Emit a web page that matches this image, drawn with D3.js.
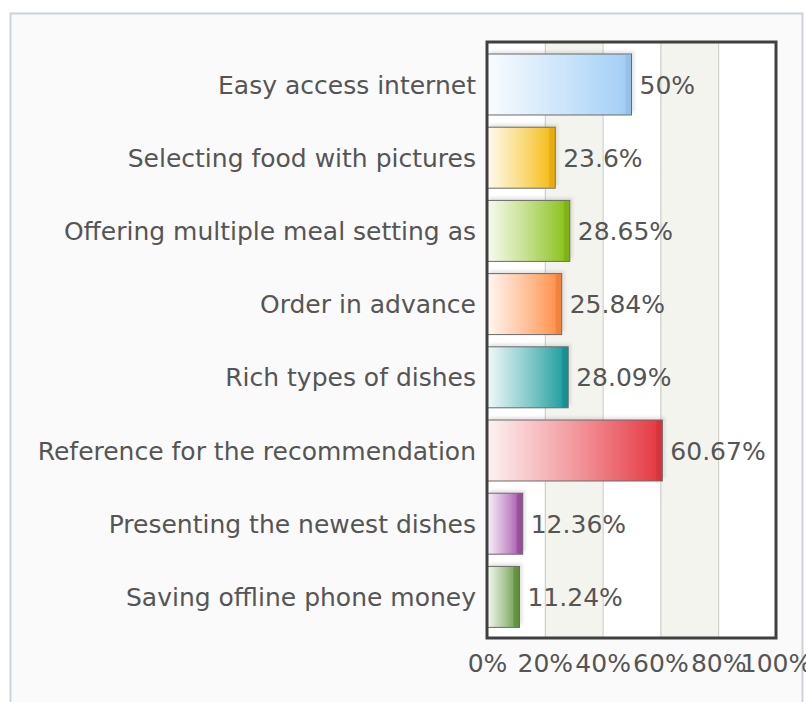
<!DOCTYPE html>
<html>
<head>
<meta charset="utf-8">
<script src="https://cdn.jsdelivr.net/npm/d3@7"></script>
<style>
  html, body { margin: 0; padding: 0; background: #ffffff; }
  svg { display: block; font-family: "DejaVu Sans", Verdana, sans-serif; }
</style>
</head>
<body>
<svg id="chart" width="806" height="702"></svg>
<script>
// Survey answers, share of respondents (%)
const categories = [
  "Easy access internet",
  "Selecting food with pictures",
  "Offering multiple meal setting as",
  "Order in advance",
  "Rich types of dishes",
  "Reference for the recommendation",
  "Presenting the newest dishes",
  "Saving offline phone money"
];
const values = [50, 23.6, 28.65, 25.84, 28.09, 60.67, 12.36, 11.24];
const valueLabels = ["50%", "23.6%", "28.65%", "25.84%", "28.09%", "60.67%", "12.36%", "11.24%"];
const barColors = ["#9fcdf5", "#f5b90a", "#86bf10", "#ff8a40", "#14999a", "#e5353f", "#a04ca6", "#62973e"];
const tickValues = [0, 20, 40, 60, 80, 100];
const tickLabels = ["0%", "20%", "40%", "60%", "80%", "100%"];

const svg = d3.select("#chart");
const plot = { left: 487, right: 776, top: 42, bottom: 638 };
const FONT = 25;

const defs = svg.append("defs");

// outer panel
svg.append("rect")
  .attr("x", 10.5).attr("y", 13.5)
  .attr("width", 792).attr("height", 720)
  .attr("fill", "#fafafa")
  .attr("stroke", "#c9d3dc").attr("stroke-width", 2);

const x = d3.scaleLinear().domain([0, 100]).range([plot.left, plot.right]);
const y = d3.scaleBand().domain(categories).range([47.9, 633.5]).paddingInner(0.167).paddingOuter(0.0835);

// plot background and alternating grid bands
svg.append("rect")
  .attr("x", plot.left).attr("y", plot.top)
  .attr("width", plot.right - plot.left).attr("height", plot.bottom - plot.top)
  .attr("fill", "#ffffff");

const bands = d3.range(0, tickValues.length - 1).filter(i => i % 2 === 1);
svg.append("g").selectAll("rect").data(bands).join("rect")
  .attr("x", i => x(tickValues[i]))
  .attr("y", plot.top)
  .attr("width", i => x(tickValues[i + 1]) - x(tickValues[i]))
  .attr("height", plot.bottom - plot.top)
  .attr("fill", "#f4f4ef");

// vertical grid lines
svg.append("g").selectAll("line").data(tickValues.slice(1, -1)).join("line")
  .attr("x1", d => x(d) + 0.5).attr("x2", d => x(d) + 0.5)
  .attr("y1", plot.top).attr("y2", plot.bottom)
  .attr("stroke", "#c8c8c0").attr("stroke-width", 1);

// soft shadow behind bars
const blur = defs.append("filter").attr("id", "shadow").attr("x", "-20%").attr("y", "-40%").attr("width", "140%").attr("height", "180%");
blur.append("feGaussianBlur").attr("stdDeviation", 1.5);

// gradients per bar
barColors.forEach((c, i) => {
  const g = defs.append("linearGradient").attr("id", "grad" + i)
    .attr("x1", 0).attr("x2", 1).attr("y1", 0).attr("y2", 0);
  g.append("stop").attr("offset", "0%").attr("stop-color", d3.interpolateRgb(c, "#ffffff")(0.94));
  g.append("stop").attr("offset", "55%").attr("stop-color", d3.interpolateRgb(c, "#ffffff")(0.45));
  g.append("stop").attr("offset", "100%").attr("stop-color", c);
});

const rows = svg.append("g").selectAll("g").data(categories).join("g");

rows.append("rect")
  .attr("x", x(0) + 3)
  .attr("y", d => y(d) - 3)
  .attr("width", (d, i) => x(values[i]) - x(0))
  .attr("height", y.bandwidth())
  .attr("fill", "#999")
  .attr("opacity", 0.25)
  .attr("filter", "url(#shadow)");

rows.append("rect")
  .attr("x", x(0))
  .attr("y", d => y(d))
  .attr("width", (d, i) => x(values[i]) - x(0))
  .attr("height", y.bandwidth())
  .attr("fill", (d, i) => `url(#grad${i})`)
  .attr("stroke", "#6a6a6a").attr("stroke-width", 1);

// darker end cap on each bar
rows.append("rect")
  .attr("x", (d, i) => x(values[i]) - 6)
  .attr("y", d => y(d) + 0.5)
  .attr("width", 5.5)
  .attr("height", y.bandwidth() - 1)
  .attr("fill", (d, i) => d3.color(barColors[i]).darker(0.35))
  .attr("opacity", 0.55);

// value labels
rows.append("text")
  .attr("x", (d, i) => x(values[i]) + 8)
  .attr("y", d => y(d) + y.bandwidth() / 2)
  .attr("dy", "0.36em")
  .attr("font-size", FONT)
  .attr("fill", "#555555")
  .text((d, i) => valueLabels[i]);

// category labels
svg.append("g").selectAll("text").data(categories).join("text")
  .attr("x", plot.left - 11)
  .attr("y", d => y(d) + y.bandwidth() / 2)
  .attr("dy", "0.36em")
  .attr("text-anchor", "end")
  .attr("font-size", FONT)
  .attr("fill", "#555555")
  .text(d => d);

// plot frame
svg.append("rect")
  .attr("x", plot.left).attr("y", plot.top)
  .attr("width", plot.right - plot.left).attr("height", plot.bottom - plot.top)
  .attr("fill", "none")
  .attr("stroke", "#404040").attr("stroke-width", 3);

// x axis labels
const xAxis = d3.axisBottom(x).tickValues(tickValues).tickFormat((d, i) => tickLabels[i]).tickSize(0).tickPadding(0);
const axG = svg.append("g").attr("transform", `translate(0,${plot.bottom})`).call(xAxis);
axG.select(".domain").remove();
axG.selectAll("text")
  .attr("y", 34).attr("dy", 0)
  .attr("font-size", FONT)
  .attr("font-family", "\"DejaVu Sans\", Verdana, sans-serif")
  .attr("fill", "#555555");
</script>
</body>
</html>
